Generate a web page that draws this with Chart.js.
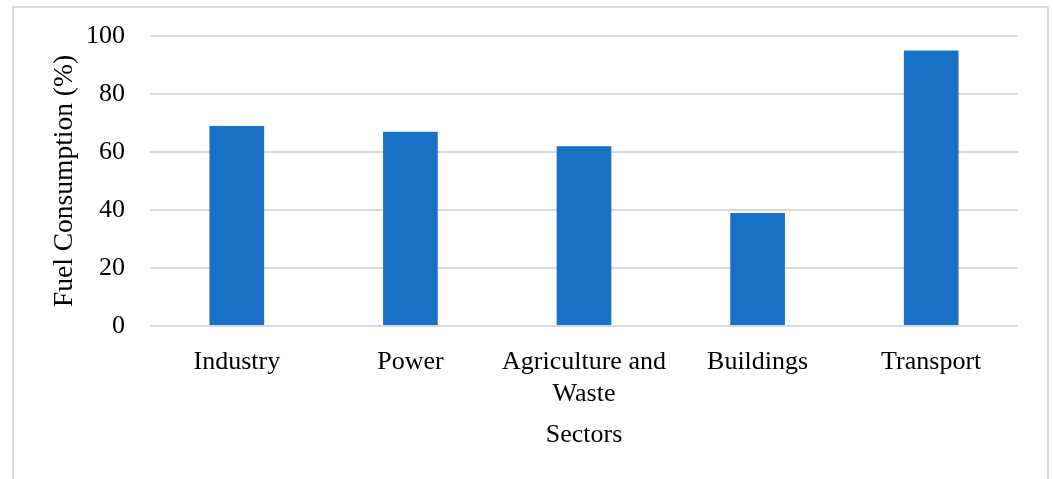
<!DOCTYPE html>
<html>
<head>
<meta charset="utf-8">
<script src="https://cdn.jsdelivr.net/npm/chart.js@4"></script>
<style>
    html, body { margin: 0; padding: 0; background: #fff; overflow: hidden; }
    #frame {
        position: absolute; left: 12px; top: 6px;
        width: 1033px; height: 520px;
        border: 2px solid #d9d9d9;
    }
    #wrap { position: absolute; left: 0; top: 0; width: 1053px; height: 479px; }
</style>
</head>
<body>
<div id="frame"></div>
<div id="wrap"><canvas id="fuelChart"></canvas></div>
<script>
const sectors = ['Industry', 'Power', ['Agriculture and', 'Waste'], 'Buildings', 'Transport'];
const fuelShare = [69, 67, 62, 39, 95];
const yTicks = [0, 20, 40, 60, 80, 100];

const serif = '"Liberation Serif", "Times New Roman", serif';
const textFont = { family: serif, size: 26, lineHeight: 1.2 };
const titleFont = { family: serif, size: 27.5, lineHeight: 1.2 };
const gridColor = '#d9d9d9';

new Chart(document.getElementById('fuelChart'), {
    type: 'bar',
    data: {
        labels: sectors,
        datasets: [{
            data: fuelShare,
            backgroundColor: '#1771c7',
            borderWidth: 0,
            categoryPercentage: 1,
            barPercentage: 0.315
        }]
    },
    options: {
        responsive: true,
        maintainAspectRatio: false,
        animation: false,
        layout: { padding: { top: 36, right: 35, bottom: 0, left: 0 } },
        plugins: {
            legend: { display: false },
            tooltip: { enabled: false }
        },
        scales: {
            x: {
                grid: { display: false },
                border: { display: false },
                ticks: {
                    color: '#000',
                    font: textFont,
                    padding: 13,
                    maxRotation: 0,
                    autoSkip: false
                },
                title: {
                    display: true,
                    text: 'Sectors',
                    color: '#000',
                    font: textFont,
                    padding: { top: 0, bottom: 28 }
                },
                afterFit: (scale) => { scale.height = 153; }
            },
            y: {
                min: 0,
                max: 100,
                afterBuildTicks: (scale) => {
                    scale.ticks = yTicks.map(v => ({ value: v }));
                },
                grid: {
                    color: gridColor,
                    lineWidth: 2,
                    drawTicks: false
                },
                border: { display: false },
                ticks: {
                    color: '#000',
                    font: textFont,
                    padding: 25
                },
                title: {
                    display: true,
                    text: 'Fuel Consumption (%)',
                    color: '#000',
                    font: titleFont,
                    padding: { top: 48, bottom: 0 }
                },
                afterFit: (scale) => {
                    // fixed axis width, and no extra room for the end labels
                    scale.width = 150;
                    scale.paddingTop = 0;
                    scale.paddingBottom = 0;
                }
            }
        }
    }
});
</script>
</body>
</html>
